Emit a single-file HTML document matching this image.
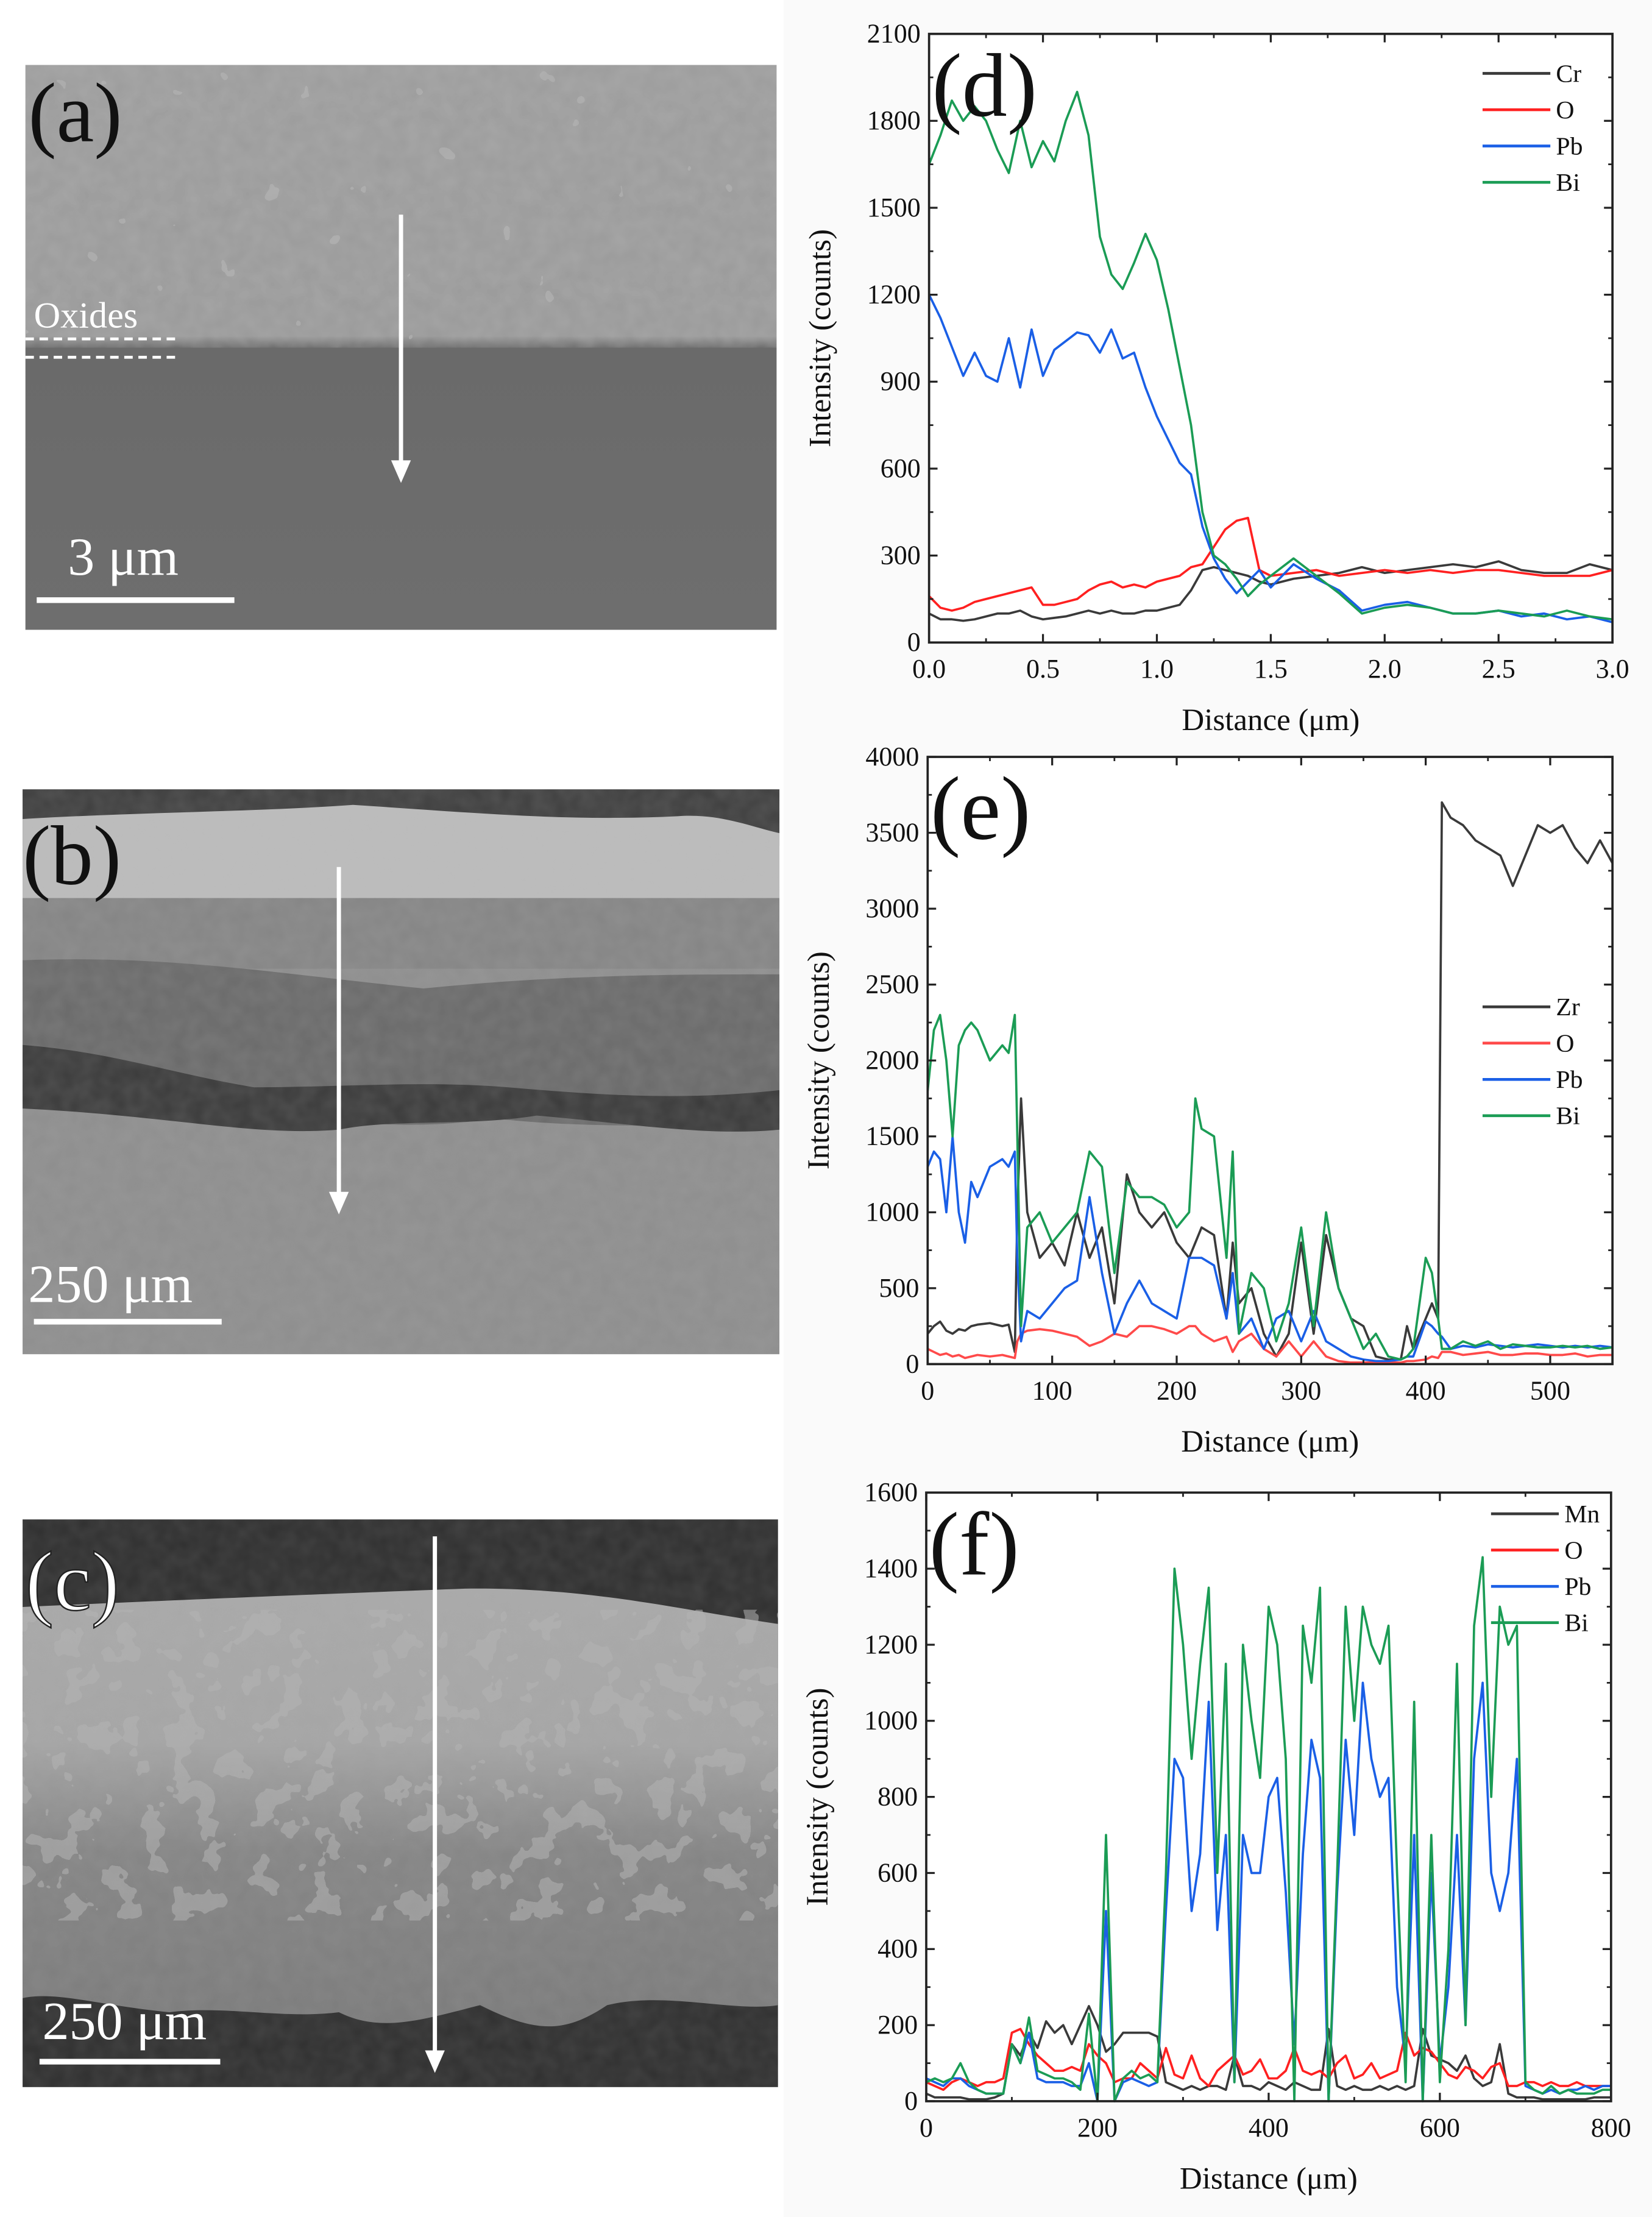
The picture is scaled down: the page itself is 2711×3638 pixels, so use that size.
<!DOCTYPE html>
<html><head><meta charset="utf-8">
<style>
html,body{margin:0;padding:0;background:#fff;}
svg{display:block;}
text{font-family:"Liberation Serif",serif;}
</style></head>
<body>
<svg id="fig" width="2711" height="3638" viewBox="0 0 1170 1570" preserveAspectRatio="none" xmlns="http://www.w3.org/2000/svg">
<defs>
<filter id="grain" x="0" y="0" width="100%" height="100%">
<feTurbulence type="fractalNoise" baseFrequency="0.09" numOctaves="2" seed="3"/>
<feColorMatrix type="matrix" values="0 0 0 0 0.5  0 0 0 0 0.5  0 0 0 0 0.5  0 0 0 0.35 0"/>
</filter>
<filter id="blotch" x="0" y="0" width="100%" height="100%">
<feTurbulence type="fractalNoise" baseFrequency="0.05" numOctaves="3" seed="7"/>
<feComponentTransfer><feFuncA type="discrete" tableValues="0 0 0 1 1"/></feComponentTransfer>
<feColorMatrix type="matrix" values="0 0 0 0 0.45  0 0 0 0 0.45  0 0 0 0 0.45  0 0 0 0.9 0"/>
</filter>
<filter id="blotchA" x="0" y="0" width="100%" height="100%">
<feTurbulence type="fractalNoise" baseFrequency="0.04" numOctaves="3" seed="11"/>
<feComponentTransfer><feFuncA type="discrete" tableValues="0 0 0 0 1"/></feComponentTransfer>
<feColorMatrix type="matrix" values="0 0 0 0 0.42  0 0 0 0 0.42  0 0 0 0 0.42  0 0 0 0.8 0"/>
</filter>
<linearGradient id="gA" x1="0" y1="0" x2="0" y2="1">
<stop offset="0" stop-color="#9c9c9c"/><stop offset="0.48" stop-color="#999"/><stop offset="0.5" stop-color="#6a6a6a"/><stop offset="1" stop-color="#6e6e6e"/>
</linearGradient>
<linearGradient id="gC" x1="0" y1="0" x2="0" y2="1">
<stop offset="0" stop-color="#a9a9a9"/><stop offset="0.35" stop-color="#a5a5a5"/><stop offset="0.6" stop-color="#858585"/><stop offset="1" stop-color="#7b7b7b"/>
</linearGradient>
</defs>
<rect x="555" y="0" width="615" height="1570" fill="#fafafa"/>

<!-- panel a -->
<g>
<rect x="18" y="46" width="532" height="400" fill="url(#gA)"/>
<rect x="18" y="46" width="532" height="196" filter="url(#blotchA)"/>
<rect x="18" y="46" width="532" height="200" filter="url(#grain)"/>
<line x1="18" y1="240" x2="126" y2="240" stroke="#fff" stroke-width="2" stroke-dasharray="6,4"/>
<line x1="18" y1="253" x2="126" y2="253" stroke="#fff" stroke-width="2" stroke-dasharray="6,4"/>
<text x="24" y="232" font-size="26" fill="#fff">Oxides</text>
<line x1="284" y1="152" x2="284" y2="330" stroke="#fff" stroke-width="3"/>
<polygon points="277,326 291,326 284,342" fill="#fff"/>
<text x="48" y="407" font-size="38" fill="#fff">3 μm</text>
<line x1="26" y1="425" x2="166" y2="425" stroke="#fff" stroke-width="4"/>
<text x="20" y="100" font-size="60" fill="#111">(a)</text>
</g>

<!-- panel b -->
<g>
<rect x="16" y="559" width="536" height="400" fill="#8e8e8e"/>
<rect x="16" y="559" width="536" height="40" fill="#3e3e3e"/>
<path d="M16,580 C100,575 180,575 250,570 C330,575 400,582 480,578 C510,576 530,585 552,590 L552,636 L16,636 Z" fill="#bcbcbc"/>
<rect x="16" y="636" width="536" height="50" fill="#858585"/>
<path d="M16,680 C120,676 200,690 300,700 C400,690 480,690 552,690 L552,800 C480,795 420,800 350,792 C300,800 250,796 200,790 C130,795 70,780 16,775 Z" fill="#6a6a6a"/>
<path d="M16,740 C80,745 120,760 180,770 C240,770 300,765 360,770 C420,775 480,780 552,772 L552,800 C500,805 440,795 380,790 C330,798 280,792 240,800 C180,805 120,790 16,785 Z" fill="#3a3a3a"/>
<rect x="16" y="559" width="536" height="400" filter="url(#grain)" opacity="0.5"/>
<line x1="240" y1="614" x2="240" y2="848" stroke="#fff" stroke-width="3"/>
<polygon points="233,844 247,844 240,860" fill="#fff"/>
<text x="20" y="922" font-size="38" fill="#fff">250 μm</text>
<line x1="24" y1="936" x2="157" y2="936" stroke="#fff" stroke-width="4"/>
<text x="16" y="626" font-size="60" fill="#111">(b)</text>
</g>

<!-- panel c -->
<g>
<rect x="16" y="1076" width="535" height="402" fill="#2f2f2f"/>
<path d="M16,1138 C150,1132 250,1128 330,1125 C420,1124 480,1140 551,1150 L551,1420 C520,1425 470,1410 430,1420 C400,1440 380,1440 340,1420 C300,1430 270,1440 240,1425 C200,1430 160,1420 120,1425 C70,1420 40,1410 16,1415 Z" fill="url(#gC)"/>
<rect x="16" y="1140" width="535" height="220" filter="url(#blotch)" opacity="0.6"/>
<rect x="16" y="1076" width="535" height="402" filter="url(#grain)" opacity="0.4"/>
<line x1="308" y1="1088" x2="308" y2="1456" stroke="#fff" stroke-width="3"/>
<polygon points="301,1452 315,1452 308,1468" fill="#fff"/>
<text x="30" y="1444" font-size="38" fill="#fff">250 μm</text>
<line x1="28" y1="1460" x2="156" y2="1460" stroke="#fff" stroke-width="4"/>
<text x="18" y="1140" font-size="60" fill="#fff" stroke="#222" stroke-width="1">(c)</text>
</g>

<g id="charts"></g>
</svg>

<script>
// ---- chart d data ----
const dX = [0,0.05,0.1,0.15,0.2,0.25,0.3,0.35,0.4,0.45,0.5,0.55,0.6,0.65,0.7,0.75,0.8,0.85,0.9,0.95,1.0,1.05,1.1,1.15,1.2,1.25,1.3,1.35,1.4,1.45,1.5,1.6,1.7,1.8,1.9,2.0,2.1,2.2,2.3,2.4,2.5,2.6,2.7,2.8,2.9,3.0];
const dCr = [100,80,80,75,80,90,100,100,110,90,80,85,90,100,110,100,110,100,100,110,110,120,130,180,250,260,250,240,230,210,200,220,230,240,260,240,250,260,270,260,280,250,240,240,270,250];
const dO = [160,120,110,120,140,150,160,170,180,190,130,130,140,150,180,200,210,190,200,190,210,220,230,260,270,330,390,420,430,250,230,240,250,230,240,250,240,250,240,250,250,240,230,230,230,250];
const dPb = [1200,1120,1020,920,1000,920,900,1050,880,1080,920,1010,1040,1070,1060,1000,1080,980,1000,880,780,700,620,580,400,290,220,170,210,250,190,270,220,180,110,130,140,120,100,100,110,90,100,80,90,70];
const dBi = [1650,1750,1870,1800,1850,1800,1700,1620,1800,1640,1730,1660,1800,1900,1750,1400,1270,1220,1310,1410,1320,1150,950,750,450,300,270,220,160,200,230,290,230,170,100,120,130,120,100,100,110,100,90,110,90,80];
const dXTicks = [0,0.5,1.0,1.5,2.0,2.5,3.0];
const dXLabels = ["0.0","0.5","1.0","1.5","2.0","2.5","3.0"];
const dYTicks = [0,300,600,900,1200,1500,1800,2100];

// ---- chart e data ----
const eX = [0,5,10,15,20,25,30,35,40,50,60,65,70,72,75,80,90,100,110,120,130,140,150,160,170,180,190,200,210,215,220,230,240,245,250,260,270,280,290,300,310,320,330,340,350,360,370,380,385,390,400,405,410,413,420,430,440,450,460,470,480,490,500,510,520,530,540,550];
const eZr = [200,250,280,220,200,230,220,250,260,270,250,260,80,1000,1750,1000,700,800,650,1000,700,900,400,1250,1000,900,1000,800,700,800,900,850,300,800,400,500,200,50,200,800,200,850,500,300,250,50,30,30,250,100,300,400,300,3700,3600,3550,3450,3400,3350,3150,3350,3550,3500,3550,3400,3300,3450,3300];
const eO = [100,80,60,70,50,60,40,50,60,50,60,50,40,150,200,220,230,220,200,180,120,150,200,180,250,250,230,200,250,250,200,150,180,80,150,200,100,50,150,50,150,50,20,10,10,10,10,10,20,20,30,50,40,80,80,60,70,80,60,60,70,70,60,60,70,50,60,60];
const ePb = [1300,1400,1350,1000,1500,1000,800,1200,1100,1300,1350,1300,1400,700,150,350,300,400,500,550,1100,600,200,400,550,400,350,300,700,700,700,650,300,600,200,300,100,300,350,150,350,150,100,50,30,20,20,30,50,50,280,250,200,180,100,120,110,130,120,110,120,130,120,110,120,110,120,110];
const eBi = [1800,2200,2300,2000,1500,2100,2200,2250,2200,2000,2100,2050,2300,1500,250,900,1000,800,900,1000,1400,1300,600,1200,1100,1100,1050,900,1000,1750,1550,1500,700,1400,200,600,500,150,400,900,250,1000,500,300,100,200,50,30,50,100,700,600,300,100,100,150,120,150,100,130,120,110,110,120,110,120,100,110];
const eXTicks = [0,100,200,300,400,500];
const eYTicks = [0,500,1000,1500,2000,2500,3000,3500,4000];

// ---- chart f data ----
const fX = [0,10,20,30,40,50,60,70,80,90,100,110,120,130,140,150,160,170,180,190,200,210,220,230,240,250,260,270,280,290,300,310,320,330,340,350,360,370,380,390,400,410,420,430,440,450,460,470,480,490,500,510,520,530,540,550,560,570,580,590,600,610,620,630,640,650,660,670,680,690,700,710,720,730,740,750,760,770,780,790,800];
const fMn = [20,10,10,10,10,5,5,5,10,20,150,120,180,140,210,180,200,150,200,250,200,130,150,180,180,180,180,170,50,40,30,40,30,40,40,30,120,40,40,30,50,40,30,50,40,30,30,190,40,30,40,30,30,40,30,40,30,40,190,120,110,100,80,120,60,40,50,150,20,10,10,10,5,5,5,5,5,5,10,10,10];
const fO = [50,40,30,50,60,50,40,50,50,60,180,190,150,120,100,80,80,90,80,150,120,100,50,60,60,100,80,60,140,70,60,120,60,40,80,100,120,70,80,110,60,60,80,140,80,70,80,60,100,120,60,70,100,60,70,80,180,120,140,130,100,70,60,90,80,60,90,100,40,40,50,50,40,50,40,40,50,40,40,40,40];
const fPb = [60,50,40,60,60,40,30,20,20,20,150,100,180,60,50,50,50,40,40,100,0,500,0,50,60,50,40,50,500,900,850,500,650,1050,450,700,50,700,600,600,800,850,550,150,650,950,850,0,550,950,700,1100,900,800,850,300,100,700,0,600,100,300,700,200,900,1100,600,500,600,900,40,30,20,30,20,30,30,40,30,40,40];
const fBi = [50,60,50,60,100,50,30,20,20,20,150,100,220,80,70,60,60,50,30,230,0,700,0,60,80,60,70,50,600,1400,1200,900,1150,1350,600,1150,50,1200,1000,850,1300,1200,900,0,1250,1100,1350,0,600,1300,1000,1300,1200,1150,1250,600,50,1050,0,700,50,400,1150,200,1250,1430,800,1300,1200,1250,50,30,20,40,20,30,20,20,20,30,30];
const fXTicks = [0,200,400,600,800];
const fYTicks = [0,200,400,600,800,1000,1200,1400,1600];

const COLORS = {black:"#3a3a3a", red:"#ff2020", blue:"#1a5fe6", green:"#1b9c55"};
const NS = "http://www.w3.org/2000/svg";
const root = document.getElementById("charts");

function mk(tag, attrs, parent){
  const el = document.createElementNS(NS, tag);
  for (const k in attrs) el.setAttribute(k, attrs[k]);
  parent.appendChild(el);
  return el;
}

function drawChart(cfg){
  const g = mk("g", {}, root);
  
  
  const sx = v => cfg.x0 + (v - cfg.xmin) / (cfg.xmax - cfg.xmin) * (cfg.x1 - cfg.x0);
  const sy = v => cfg.y1 - (v - cfg.ymin) / (cfg.ymax - cfg.ymin) * (cfg.y1 - cfg.y0);
  mk("rect", {x:cfg.x0, y:cfg.y0, width:cfg.x1-cfg.x0, height:cfg.y1-cfg.y0, fill:"#fff"}, g);
  cfg.series.forEach(s => {
    let d = "";
    s.ys.forEach((v,i) => { d += (i ? "L" : "M") + sx(cfg.xs[i]).toFixed(2) + "," + sy(v).toFixed(2); });
    const p = mk("path", {d:d, fill:"none", stroke:s.color, "stroke-width":1.6, "stroke-linejoin":"round"}, g);
    
    
  });
  const fr = mk("rect", {x:cfg.x0, y:cfg.y0, width:cfg.x1-cfg.x0, height:cfg.y1-cfg.y0, fill:"none", stroke:"#222", "stroke-width":1.6}, g);
  
  
  cfg.yTicks.forEach((v,i) => {
    const y = sy(v);
    mk("line", {x1:cfg.x0, y1:y, x2:cfg.x0+6, y2:y, stroke:"#222", "stroke-width":1.4}, g);
    mk("line", {x1:cfg.x1, y1:y, x2:cfg.x1-6, y2:y, stroke:"#222", "stroke-width":1.4}, g);
    if (i < cfg.yTicks.length-1){
      const ym = sy((v + cfg.yTicks[i+1])/2);
      mk("line", {x1:cfg.x0, y1:ym, x2:cfg.x0+3, y2:ym, stroke:"#222", "stroke-width":1.2}, g);
      mk("line", {x1:cfg.x1, y1:ym, x2:cfg.x1-3, y2:ym, stroke:"#222", "stroke-width":1.2}, g);
    }
    const t = mk("text", {x:cfg.x0-6, y:y+6, "font-size":19, "text-anchor":"end", fill:"#111"}, g);
    t.textContent = String(v);
    
    
  });
  cfg.xTicks.forEach((v,i) => {
    const x = sx(v);
    mk("line", {x1:x, y1:cfg.y1, x2:x, y2:cfg.y1-6, stroke:"#222", "stroke-width":1.4}, g);
    mk("line", {x1:x, y1:cfg.y0, x2:x, y2:cfg.y0+6, stroke:"#222", "stroke-width":1.4}, g);
    if (i < cfg.xTicks.length-1){
      const xm = sx((v + cfg.xTicks[i+1])/2);
      mk("line", {x1:xm, y1:cfg.y1, x2:xm, y2:cfg.y1-3, stroke:"#222", "stroke-width":1.2}, g);
      mk("line", {x1:xm, y1:cfg.y0, x2:xm, y2:cfg.y0+3, stroke:"#222", "stroke-width":1.2}, g);
    }
    const t = mk("text", {x:x, y:cfg.y1+25, "font-size":19, "text-anchor":"middle", fill:"#111"}, g);
    t.textContent = cfg.xLabels ? cfg.xLabels[i] : String(v);
    
    
  });
  const xt = mk("text", {x:(cfg.x0+cfg.x1)/2, y:cfg.y1+62, "font-size":22, "text-anchor":"middle", fill:"#111"}, g);
  xt.textContent = "Distance (μm)";
  
  
  const yc = (cfg.y0+cfg.y1)/2;
  const yt = mk("text", {x:cfg.x0-70, y:yc, "font-size":22, "text-anchor":"middle", fill:"#111", transform:"rotate(-90 "+(cfg.x0-70)+" "+yc+")"}, g);
  yt.textContent = "Intensity (counts)";
  
  
  const pl = mk("text", {x:cfg.x0+2, y:cfg.y0+58, "font-size":64, fill:"#111"}, g);
  pl.textContent = cfg.panel;
  
  
  cfg.series.forEach((s,i) => {
    const ly = cfg.legY + i*25.7;
    const ll = mk("line", {x1:cfg.legX, y1:ly, x2:cfg.legX+48, y2:ly, stroke:s.color, "stroke-width":2}, g);
    
    
    const lt = mk("text", {x:cfg.legX+52, y:ly+6, "font-size":18, fill:"#111"}, g);
    lt.textContent = s.label;
    
    
  });
}

drawChart({name:"chart-d-cr", panel:"(d)", x0:658, x1:1142, y0:24, y1:455, xmin:0, xmax:3, ymin:0, ymax:2100,
  xs:dX, xTicks:dXTicks, xLabels:dXLabels, yTicks:dYTicks, legX:1050, legY:52,
  series:[{label:"Cr", ys:dCr, color:COLORS.black},{label:"O", ys:dO, color:COLORS.red},{label:"Pb", ys:dPb, color:COLORS.blue},{label:"Bi", ys:dBi, color:COLORS.green}]});
drawChart({name:"chart-e-zr", panel:"(e)", x0:657, x1:1142, y0:536, y1:966, xmin:0, xmax:550, ymin:0, ymax:4000,
  xs:eX, xTicks:eXTicks, yTicks:eYTicks, legX:1050, legY:713,
  series:[{label:"Zr", ys:eZr, color:COLORS.black},{label:"O", ys:eO, color:"#ff4a4a"},{label:"Pb", ys:ePb, color:COLORS.blue},{label:"Bi", ys:eBi, color:COLORS.green}]});
drawChart({name:"chart-f-mn", panel:"(f)", x0:656, x1:1141, y0:1057, y1:1488, xmin:0, xmax:800, ymin:0, ymax:1600,
  xs:fX, xTicks:fXTicks, yTicks:fYTicks, legX:1056, legY:1072,
  series:[{label:"Mn", ys:fMn, color:COLORS.black},{label:"O", ys:fO, color:COLORS.red},{label:"Pb", ys:fPb, color:COLORS.blue},{label:"Bi", ys:fBi, color:COLORS.green}]});
</script>
</body></html>
